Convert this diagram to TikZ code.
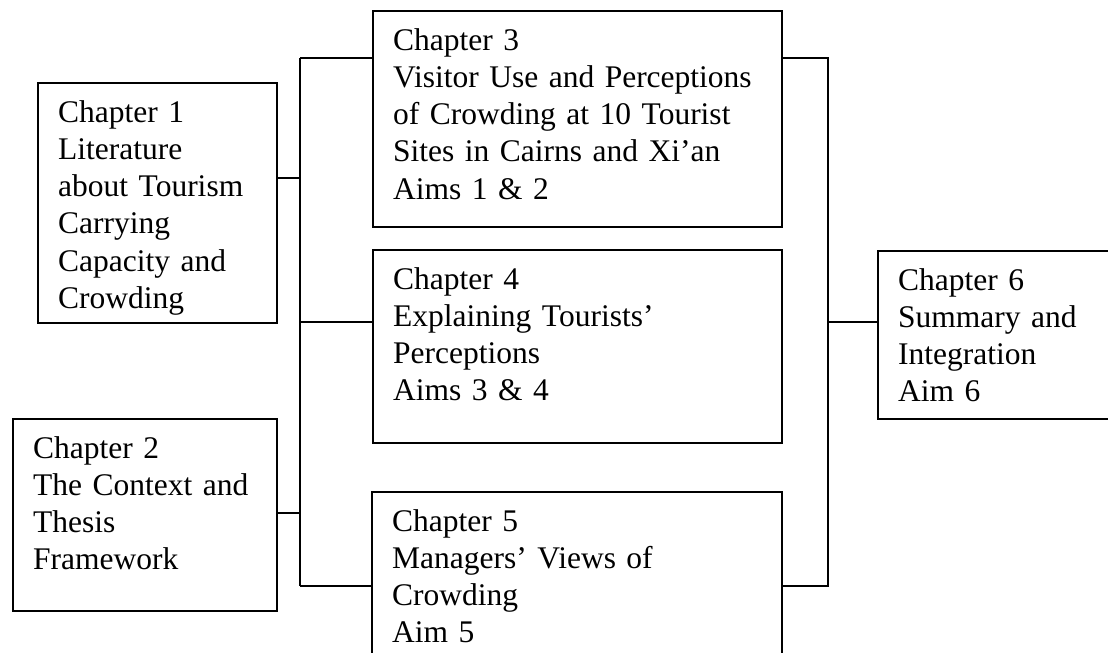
\documentclass[tikz,border=0pt]{standalone}
\usepackage{fontspec}
\setmainfont{Liberation Serif}
\begin{document}
\begin{tikzpicture}[x=1pt,y=1pt]
\tikzset{
 boxnode/.style={draw, line width=1.5pt, rectangle, inner sep=0pt, anchor=north west},
 txt/.style={anchor=north west, inner sep=0pt, align=left, text width=400pt, font=\fontsize{31.5}{37.3}\selectfont},
 wire/.style={line width=1.5pt}
}
\clip (0,0) rectangle (1108,-653);
% boxes
\node[boxnode, minimum width=239pt, minimum height=240pt] (c1) at (37,-82) {};
\node[boxnode, minimum width=264pt, minimum height=192pt] (c2) at (12,-418) {};
\node[boxnode, minimum width=409pt, minimum height=216pt] (c3) at (372,-10) {};
\node[boxnode, minimum width=409pt, minimum height=193pt] (c4) at (372,-249) {};
\node[boxnode, minimum width=410pt, minimum height=190pt] (c5) at (371,-491) {};
\node[boxnode, minimum width=250pt, minimum height=168pt] (c6) at (877,-250) {};
% texts
\node[txt] (t1) at ([shift={(21,-18)}]c1.north west) {Chapter 1\\Literature\\about Tourism\\Carrying\\Capacity and\\Crowding};
\node[txt] (t2) at ([shift={(21,-18)}]c2.north west) {Chapter 2\\The Context and\\Thesis\\Framework};
\node[txt] (t3) at ([shift={(21,-18)}]c3.north west) {Chapter 3\\Visitor Use and Perceptions\\of Crowding at 10 Tourist\\Sites in Cairns and Xi’an\\Aims 1 \& 2};
\node[txt] (t4) at ([shift={(21,-18)}]c4.north west) {Chapter 4\\Explaining Tourists’\\Perceptions\\Aims 3 \& 4};
\node[txt] (t5) at ([shift={(21,-18)}]c5.north west) {Chapter 5\\Managers’ Views of\\Crowding\\Aim 5};
\node[txt] (t6) at ([shift={(21,-18)}]c6.north west) {Chapter 6\\Summary and\\Integration\\Aim 6};
% junction points
\coordinate (Ltop) at (300,-58);
\coordinate (L1) at (300,-178);
\coordinate (L4) at (300,-322);
\coordinate (L2) at (300,-513);
\coordinate (Lbot) at (300,-586);
\coordinate (Rtop) at (828,-58);
\coordinate (Rmid) at (828,-322);
\coordinate (Rbot) at (828,-586);
% connectors left
\draw[wire] (c1.east |- L1) -- (L1);
\draw[wire] (c2.east |- L2) -- (L2);
\draw[wire] (Ltop) -- (Lbot);
\draw[wire] (Ltop) -- (c3.west |- Ltop);
\draw[wire] (L4) -- (c4.west |- L4);
\draw[wire] (Lbot) -- (c5.west |- Lbot);
% connectors right
\draw[wire] (c3.east |- Rtop) -- (Rtop) -- (Rbot) -- (c5.east |- Rbot);
\draw[wire] (Rmid) -- (c6.west |- Rmid);
\end{tikzpicture}
\end{document}
